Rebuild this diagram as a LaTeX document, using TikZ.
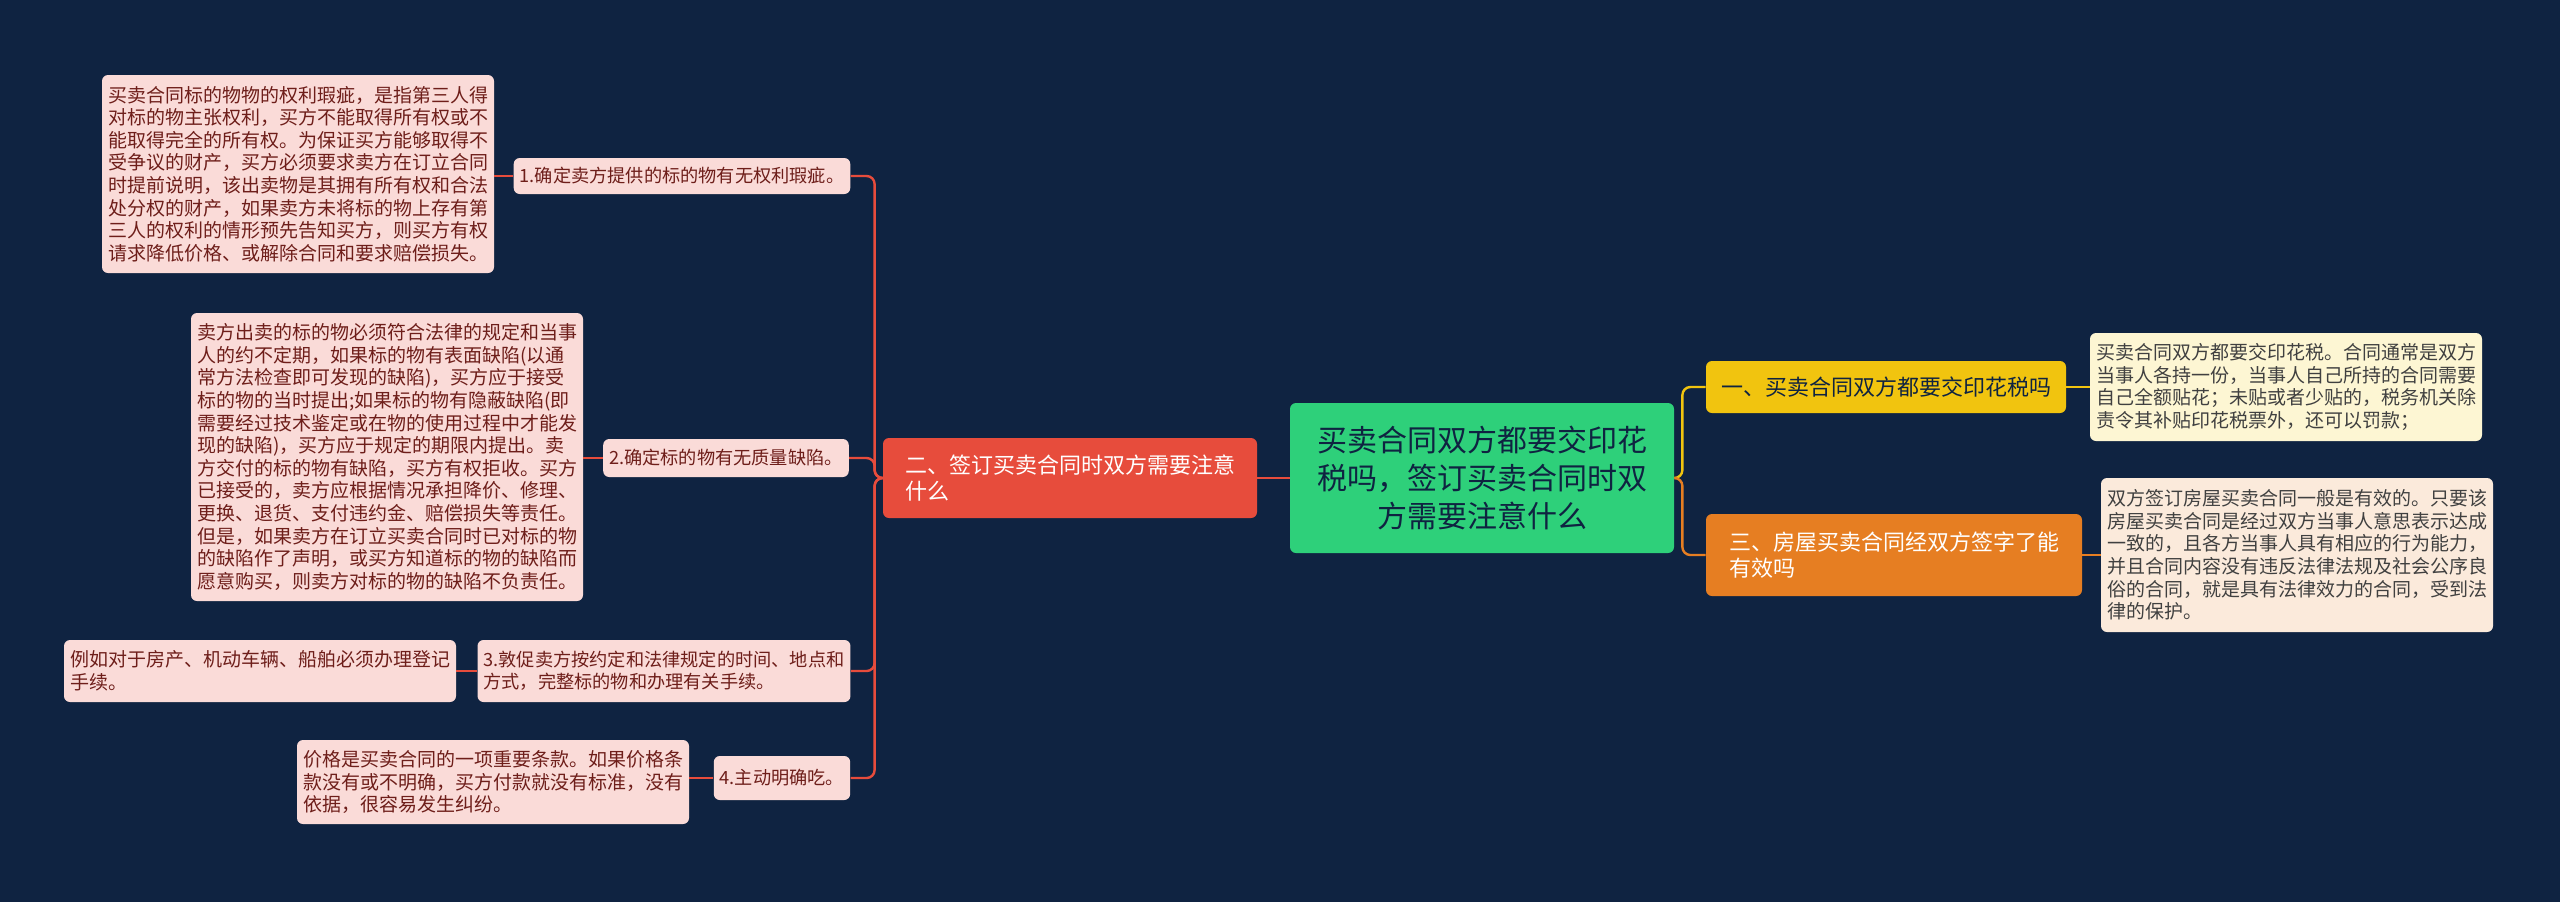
\documentclass[tikz,border=0pt]{standalone}
\usepackage{fontspec}
\setmainfont{Noto Sans CJK SC}
\usetikzlibrary{positioning}
\definecolor{bgnavy}{HTML}{0F2341}
\definecolor{rootgreen}{HTML}{2ED07A}
\definecolor{redbr}{HTML}{E74C3C}
\definecolor{yelbr}{HTML}{F1C40F}
\definecolor{orgbr}{HTML}{E67E22}
\definecolor{pinkbox}{HTML}{FADBD8}
\definecolor{pinktext}{HTML}{6E1E1A}
\definecolor{yelbox}{HTML}{FDF6D3}
\definecolor{orgbox}{HTML}{FBEADB}
\tikzset{
  box/.style={rounded corners=3pt, inner sep=3pt, align=left},
  topic/.style={box, font=\fontsize{11}{13}\selectfont},
  leafbox/.style={box, fill=pinkbox, text=pinktext, font=\fontsize{9.1}{11}\selectfont},
  notebox/.style={box, fill=pinkbox, text=pinktext, font=\fontsize{9.5}{11.3}\selectfont},
  link/.style={line width=1.2pt, rounded corners=4pt},
}
\begin{document}
\begin{tikzpicture}[x=0.5pt, y=-0.5pt]
  \fill[bgnavy] (0,0) rectangle (2560,902);

  % root
  \node[box, fill=rootgreen, text=bgnavy, align=center, minimum width=192pt, minimum height=75pt,
        font=\fontsize{15}{19}\selectfont] (root) at (1482,478)
        {买卖合同双方都要交印花\\税吗，签订买卖合同时双\\方需要注意什么};

  % main branches
  \node[topic, fill=redbr, text=white, minimum width=187pt, minimum height=40pt] (sign) at (1070,478)
        {二、签订买卖合同时双方需要注意\\什么\hspace*{13em}};
  \node[topic, fill=yelbr, text=bgnavy, minimum width=180pt, minimum height=26pt] (tax) at (1886,387)
        {一、买卖合同双方都要交印花税吗};
  \node[topic, fill=orgbr, text=white, minimum width=188pt, minimum height=41pt] (valid) at (1894,555)
        {三、房屋买卖合同经双方签字了能\\有效吗\hspace*{12em}};

  % right notes
  \node[notebox, fill=yelbox, text=black!75, minimum width=185pt, minimum height=54pt] (taxnote) at (2286,387)
        {买卖合同双方都要交印花税。合同通常是双方\\当事人各持一份，当事人自己所持的合同需要\\自己全额贴花；未贴或者少贴的，税务机关除\\责令其补贴印花税票外，还可以罚款；};
  \node[notebox, fill=orgbox, text=black!75, minimum width=185pt, minimum height=77pt] (validnote) at (2297,555)
        {双方签订房屋买卖合同一般是有效的。只要该\\房屋买卖合同是经过双方当事人意思表示达成\\一致的，且各方当事人具有相应的行为能力，\\并且合同内容没有违反法律法规及社会公序良\\俗的合同，就是具有法律效力的合同，受到法\\律的保护。};

  % left items
  \node[leafbox, minimum width=166pt, minimum height=18pt] (itemA) at (682,176)
        {1.确定卖方提供的标的物有无权利瑕疵。};
  \node[leafbox, minimum width=122pt, minimum height=19pt] (itemB) at (726,458)
        {2.确定标的物有无质量缺陷。};
  \node[leafbox, minimum width=185pt, minimum height=31pt] (itemC) at (664,671)
        {3.敦促卖方按约定和法律规定的时间、地点和\\方式，完整标的物和办理有关手续。};
  \node[leafbox, minimum width=67pt, minimum height=22pt] (itemD) at (782,778)
        {4.主动明确吃。};

  % left notes
  \node[notebox, minimum width=185pt, minimum height=99pt] (noteA) at (298,174)
        {买卖合同标的物物的权利瑕疵，是指第三人得\\对标的物主张权利，买方不能取得所有权或不\\能取得完全的所有权。为保证买方能够取得不\\受争议的财产，买方必须要求卖方在订立合同\\时提前说明，该出卖物是其拥有所有权和合法\\处分权的财产，如果卖方未将标的物上存有第\\三人的权利的情形预先告知买方，则买方有权\\请求降低价格、或解除合同和要求赔偿损失。};
  \node[notebox, minimum width=185pt, minimum height=144pt] (noteB) at (387,457)
        {卖方出卖的标的物必须符合法律的规定和当事\\人的约不定期，如果标的物有表面缺陷(以通\\常方法检查即可发现的缺陷)，买方应于接受\\标的物的当时提出;如果标的物有隐蔽缺陷(即\\需要经过技术鉴定或在物的使用过程中才能发\\现的缺陷)，买方应于规定的期限内提出。卖\\方交付的标的物有缺陷，买方有权拒收。买方\\已接受的，卖方应根据情况承担降价、修理、\\更换、退货、支付违约金、赔偿损失等责任。\\但是，如果卖方在订立买卖合同时已对标的物\\的缺陷作了声明，或买方知道标的物的缺陷而\\愿意购买，则卖方对标的物的缺陷不负责任。};
  \node[notebox, minimum width=184pt, minimum height=31pt] (noteC) at (260,671)
        {例如对于房产、机动车辆、船舶必须办理登记\\手续。\hspace*{15em}};
  \node[notebox, minimum width=185pt, minimum height=42pt] (noteD) at (493,782)
        {价格是买卖合同的一项重要条款。如果价格条\\款没有或不明确，买方付款就没有标准，没有\\依据，很容易发生纠纷。};

  % connectors
  \draw[link, redbr] (root.west) -- (sign.east);
  \draw[link, yelbr] (root.east) -- ++(8,0) |- (tax.west);
  \draw[link, orgbr] (root.east) -- ++(8,0) |- (valid.west);
  \foreach \it in {itemA, itemB, itemC, itemD}
    \draw[link, redbr] (sign.west) -- ++(-8,0) |- (\it.east);
  \draw[link, redbr] (itemA.west) -- (noteA.east |- itemA.west);
  \draw[link, redbr] (itemB.west) -- (noteB.east |- itemB.west);
  \draw[link, redbr] (itemC.west) -- (noteC.east);
  \draw[link, redbr] (itemD.west) -- (noteD.east |- itemD.west);
  \draw[link, yelbr] (tax.east) -- (taxnote.west);
  \draw[link, orgbr] (valid.east) -- (validnote.west);
\end{tikzpicture}
\end{document}
